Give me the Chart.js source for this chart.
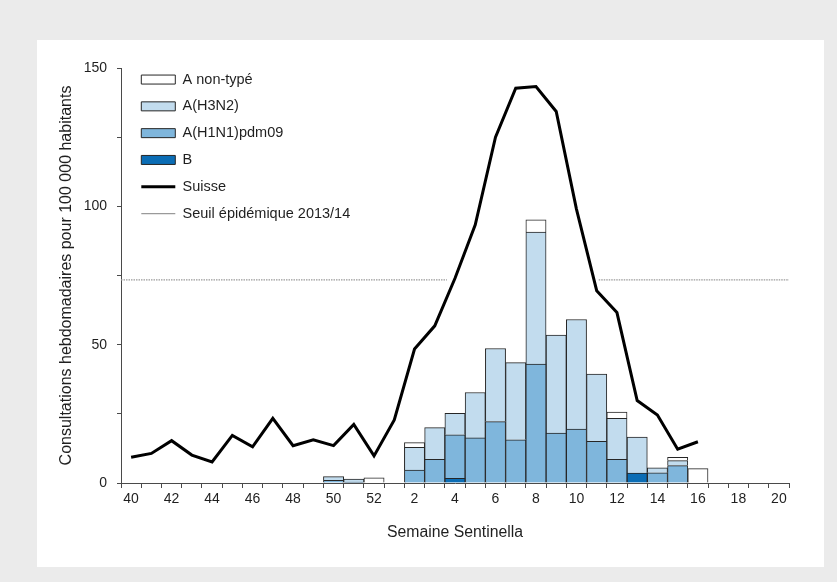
<!DOCTYPE html>
<html><head><meta charset="utf-8">
<script src="https://cdn.jsdelivr.net/npm/chart.js@4"></script>
<style>
html,body{margin:0;padding:0;background:#ebebeb;width:837px;height:582px;overflow:hidden;}
#panel{position:absolute;left:37px;top:40px;width:787px;height:527px;background:#fff;}
canvas{display:block;}
</style></head><body>
<div id="panel"><canvas id="c" width="787" height="527"></canvas></div>
<script>
// Weeks 40..52 then 1..20
const weeks = ['40','41','42','43','44','45','46','47','48','49','50','51','52',
  '1','2','3','4','5','6','7','8','9','10','11','12','13','14','15','16','17','18','19','20'];
const fluB = [null,null,null,null,null,null,null,null,null,null,null,null,null,
  null,null,null,1.7,null,null,null,null,null,null,null,null,3.6,null,null,null,null,null,null,null];
const fluH1N1 = [null,null,null,null,null,null,null,null,null,null,1.0,0.3,null,
  null,4.7,8.6,15.7,16.3,22.2,15.6,43.0,18.0,19.5,15.1,8.6,null,3.7,6.3,null,null,null,null,null];
const fluH3N2 = [null,null,null,null,null,null,null,null,null,null,1.3,1.1,null,
  null,8.2,11.4,7.8,16.4,26.4,27.9,47.7,35.5,39.6,24.3,14.8,13.0,1.8,1.8,null,null,null,null,null];
const fluANT = [null,null,null,null,null,null,null,null,null,null,null,null,1.9,
  null,1.7,null,null,null,null,null,4.4,null,null,null,2.2,null,null,1.2,5.2,null,null,null,null];
const suisse = [9.3,10.7,15.3,10.1,7.6,17.2,13.1,23.4,13.5,15.6,13.5,21.2,9.8,
  22.8,48.4,56.8,74,93.3,125,142.7,143.3,134.3,99,69.5,61.6,29.8,24.6,12.2,14.9,null,null,null,null];
const seuilValue = 73.4;
// threshold segments, in week-index units (drawn where the curve is below it)
const seuilSegments = [[-0.5, 15.6], [23.1, 32.5]];

const seuilData = [];
seuilSegments.forEach((s, i) => {
  if (i > 0) seuilData.push({x: (seuilSegments[i-1][1] + s[0]) / 2, y: null});
  seuilData.push({x: s[0], y: seuilValue});
  seuilData.push({x: s[1], y: seuilValue});
});

const FONT = "'Liberation Sans', Arial, sans-serif";
const TXT = '#1f1f1f';
const AX = '#4a4a4a';
const legendRank = {3:0, 2:1, 1:2, 0:3, 4:4, 5:5};

const legendShift = {
  id: 'legendShift',
  afterLayout(chart) {
    const l = chart.legend;
    if (l) { l.left += 8; l.top += 20; }
  }
};

const barCommon = {borderColor: '#262626', borderWidth: 1, stack: 'flu', order: 1, grouped: false,
  barPercentage: 1, categoryPercentage: 1};

new Chart(document.getElementById('c'), {
  type: 'bar',
  data: {
    labels: weeks,
    datasets: [
      Object.assign({label: 'B', data: fluB, backgroundColor: '#0b6db5'}, barCommon),
      Object.assign({label: 'A(H1N1)pdm09', data: fluH1N1, backgroundColor: '#7fb6dc'}, barCommon),
      Object.assign({label: 'A(H3N2)', data: fluH3N2, backgroundColor: '#c2dcee'}, barCommon),
      Object.assign({label: 'A non-typé', data: fluANT, backgroundColor: '#ffffff'}, barCommon),
      {type: 'line', label: 'Suisse', data: suisse, borderColor: '#000', backgroundColor: '#000', borderWidth: 3,
        pointRadius: 0, tension: 0, stack: 'suisse', order: 0, borderJoinStyle: 'miter'},
      {type: 'line', label: 'Seuil épidémique 2013/14', data: seuilData, xAxisID: 'xt', borderColor: '#9a9a9a',
        backgroundColor: '#9a9a9a', borderWidth: 1.3, borderDash: [1.5, 1], pointRadius: 0, stack: 'seuil', order: 0, spanGaps: false}
    ]
  },
  options: {
    responsive: false,
    animation: false,
    devicePixelRatio: 1,
    layout: {padding: {left: 0, top: 28, right: 35, bottom: 0}},
    plugins: {
      tooltip: {enabled: false},
      legend: {
        position: 'chartArea',
        align: 'start',
        labels: {
          usePointStyle: true,
          pointStyleWidth: 34,
          boxHeight: 9,
          padding: 12.3,
          color: TXT,
          font: {family: FONT, size: 14.5},
          generateLabels(chart) {
            const items = Chart.defaults.plugins.legend.labels.generateLabels(chart);
            items.forEach(it => {
              const ds = chart.data.datasets[it.datasetIndex];
              it.pointStyle = ds.type === 'line' ? 'line' : 'rect';
            });
            return items;
          },
          sort: (a, b) => legendRank[a.datasetIndex] - legendRank[b.datasetIndex]
        }
      }
    },
    scales: {
      x: {
        type: 'category',
        stacked: true,
        offset: true,
        grid: {drawOnChartArea: false, drawTicks: true, tickLength: 5, color: AX, offset: true},
        border: {display: true, color: AX, width: 1},
        ticks: {autoSkip: false, maxRotation: 0, padding: 3, color: TXT, font: {family: FONT, size: 14},
          callback: (v, i) => (i % 2 === 0 ? weeks[i] : '')},
        title: {display: true, text: 'Semaine Sentinella', color: TXT, font: {family: FONT, size: 15.8},
          padding: {top: 0, bottom: 25}},
        afterFit: s => { s.height = 84; }
      },
      xt: {type: 'linear', axis: 'x', position: 'bottom', display: false, offset: false,
        grid: {offset: false}, min: -0.5, max: 32.5},
      y: {
        stacked: true,
        min: 0, max: 150,
        grid: {drawOnChartArea: false, drawTicks: true, tickLength: 4, color: AX},
        border: {display: true, color: AX, width: 1},
        ticks: {stepSize: 25, padding: 10, color: TXT, font: {family: FONT, size: 14},
          callback: v => (v % 50 === 0 ? v : '')},
        title: {display: true, text: 'Consultations hebdomadaires pour 100 000 habitants', color: TXT,
          font: {family: FONT, size: 16}, padding: {top: 20, bottom: 0}},
        afterFit: s => { s.width = 84; }
      }
    }
  },
  plugins: [legendShift]
});
</script>
</body></html>
